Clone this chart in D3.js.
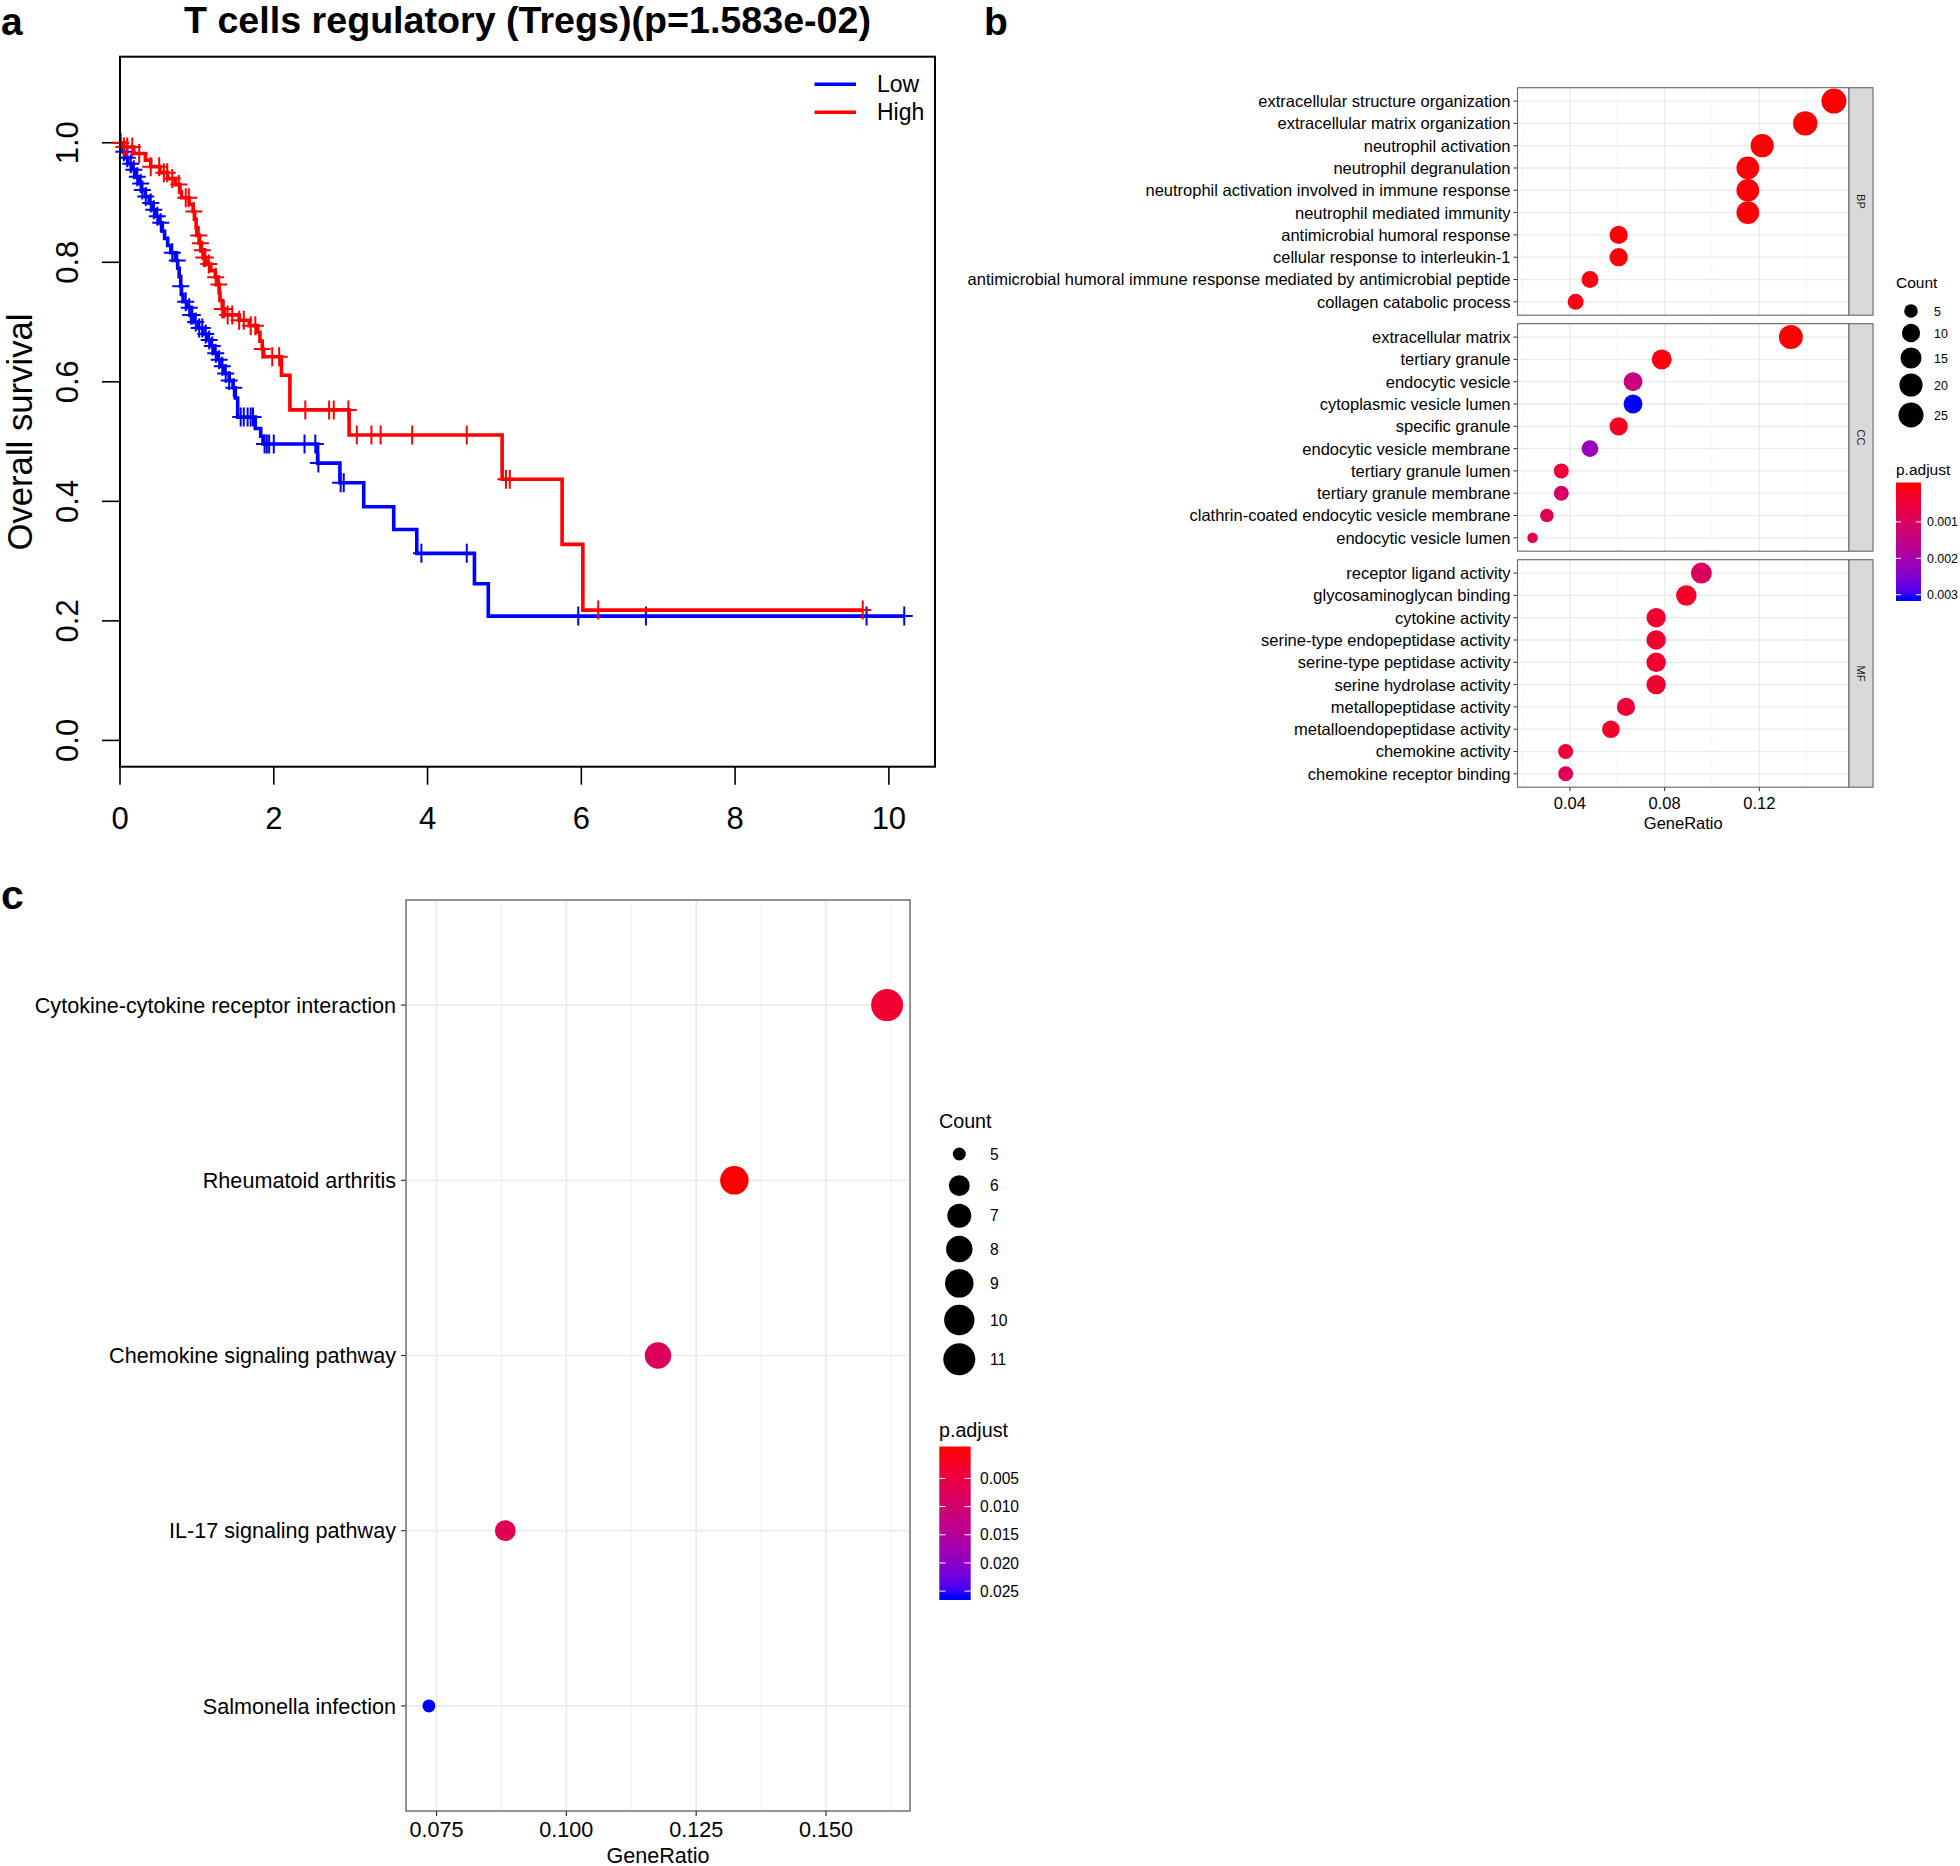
<!DOCTYPE html>
<html><head><meta charset="utf-8">
<script src="https://cdn.jsdelivr.net/npm/d3@7"></script>
<style>body{margin:0;background:#fff}svg{display:block}text{font-family:"Liberation Sans",Arial,Helvetica,sans-serif}</style>
</head><body><svg id="c" width="1960" height="1866"></svg>
<script>
// ---------------- DATA ----------------
// Panel a: Kaplan-Meier (Low / High)
const kmTitle = "T cells regulatory (Tregs)(p=1.583e-02)";
const kmGroups = ["Low", "High"];
const kmColors = ["#0000FF", "#FF0000"];
const lowTimes = [0.02,0.06,0.10,0.15,0.20,0.24,0.28,0.33,0.38,0.43,0.47,0.51,0.55,0.58,0.62,0.66,0.72,0.75,0.77,0.79,0.80,0.82,0.87,0.92,0.96,1.02,1.08,1.13,1.18,1.22,1.27,1.32,1.36,1.42,1.47,1.50,1.53,1.76,1.83,1.86,2.57,2.86,3.17,3.56,3.86,4.61,4.79];
const lowSurv  = [0.985,0.975,0.965,0.955,0.943,0.932,0.921,0.910,0.899,0.888,0.877,0.866,0.852,0.840,0.828,0.816,0.803,0.790,0.776,0.760,0.746,0.734,0.724,0.712,0.700,0.690,0.680,0.670,0.660,0.648,0.637,0.626,0.614,0.602,0.590,0.573,0.541,0.522,0.509,0.496,0.464,0.431,0.391,0.353,0.313,0.262,0.208];
const lowCensor = [0.05,0.095,0.14,0.18,0.225,0.27,0.29,0.335,0.40,0.44,0.485,0.53,0.68,0.745,0.79,0.855,0.90,0.92,0.94,0.985,1.03,1.07,1.115,1.16,1.20,1.245,1.29,1.33,1.375,1.42,1.48,1.57,1.61,1.66,1.70,1.73,1.88,1.91,1.94,2.00,2.40,2.54,2.58,2.87,2.91,3.92,4.51,5.96,6.84,9.71,10.2];
const lowEnd = 10.2;
const highTimes = [0.05,0.18,0.33,0.40,0.52,0.62,0.72,0.78,0.80,0.90,0.95,0.97,0.99,1.00,1.03,1.05,1.09,1.12,1.18,1.24,1.27,1.29,1.30,1.33,1.36,1.55,1.68,1.79,1.82,1.85,1.87,2.10,2.21,2.98,4.97,5.75,6.02];
const highSurv  = [0.993,0.982,0.971,0.960,0.950,0.940,0.930,0.918,0.908,0.897,0.885,0.872,0.858,0.845,0.832,0.820,0.808,0.797,0.786,0.775,0.763,0.749,0.736,0.722,0.712,0.703,0.694,0.683,0.668,0.655,0.642,0.611,0.553,0.511,0.437,0.328,0.218];
const highCensor = [0.01,0.05,0.095,0.16,0.25,0.40,0.51,0.57,0.615,0.68,0.765,0.855,0.895,0.96,1.025,1.045,1.07,1.09,1.11,1.155,1.245,1.285,1.33,1.35,1.40,1.46,1.55,1.61,1.70,1.76,1.85,1.98,2.07,2.41,2.72,2.78,2.97,3.08,3.27,3.39,3.80,4.51,5.02,5.07,6.22,9.66];
const highEnd = 9.66;
const kmXTicks = [0,2,4,6,8,10];
const kmYTicks = [0,0.2,0.4,0.6,0.8,1.0];

// Panel b: GO enrichment
const goFacets = ["BP","CC","MF"];
const goTotals = [165,165,157];
const bpTerms = ["extracellular structure organization","extracellular matrix organization","neutrophil activation","neutrophil degranulation","neutrophil activation involved in immune response","neutrophil mediated immunity","antimicrobial humoral response","cellular response to interleukin-1","antimicrobial humoral immune response mediated by antimicrobial peptide","collagen catabolic process"];
const bpCounts = [25,23,20,19,19,19,10,10,8,7];
const bpPadj = [3.2e-6,3.5e-6,2.1e-5,3.3e-5,3.4e-5,3.6e-5,4.1e-5,5.2e-5,9.8e-5,1.4e-4];
const ccTerms = ["extracellular matrix","tertiary granule","endocytic vesicle","cytoplasmic vesicle lumen","specific granule","endocytic vesicle membrane","tertiary granule lumen","tertiary granule membrane","clathrin-coated endocytic vesicle membrane","endocytic vesicle lumen"];
const ccCounts = [22,13,11,11,10,8,6,6,5,4];
const ccPadj = [2e-7,8e-5,0.0014,0.00309,0.00025,0.0022,0.00046,0.0011,0.0009,0.00068];
const mfTerms = ["receptor ligand activity","glycosaminoglycan binding","cytokine activity","serine-type endopeptidase activity","serine-type peptidase activity","serine hydrolase activity","metallopeptidase activity","metalloendopeptidase activity","chemokine activity","chemokine receptor binding"];
const mfCounts = [15,14,12,12,12,12,10,9,6,6];
const mfPadj = [0.001,0.0003,0.0004,0.0004,0.0004,0.0004,0.0005,0.0003,0.0005,0.0009];
const goXTicks = [0.04,0.08,0.12];
const goSizeBreaks = [5,10,15,20,25];
const goColorBreaks = [0.001,0.002,0.003];

// Panel c: KEGG enrichment
const keggTerms = ["Cytokine-cytokine receptor interaction","Rheumatoid arthritis","Chemokine signaling pathway","IL-17 signaling pathway","Salmonella infection"];
const keggCounts = [11,9,8,6,5];
const keggPadj = [0.0035,0.00001,0.0080,0.0068,0.0259];
const keggTotal = 68;
const keggXTicks = [0.075,0.100,0.125,0.150];
const keggSizeBreaks = [5,6,7,8,9,10,11];
const keggColorBreaks = [0.005,0.010,0.015,0.020,0.025];

// ---------------- DRAW ----------------
const svg = d3.select("#c");
svg.append("rect").attr("width",1960).attr("height",1866).attr("fill","#fff");
const defs = svg.append("defs");

function txt(g, x, y, s, size, opts={}) {
  const t = g.append("text").attr("x",x).attr("y",y).text(s).attr("font-size",size).attr("fill",opts.fill||"#000");
  if (opts.anchor) t.attr("text-anchor",opts.anchor);
  if (opts.weight) t.attr("font-weight",opts.weight);
  if (opts.transform) t.attr("transform",opts.transform);
  return t;
}

// Panel letters
txt(svg, 1, 35.3, "a", 39, {weight:"bold"});
txt(svg, 984, 35.3, "b", 39, {weight:"bold"});
txt(svg, 1, 909, "c", 41, {weight:"bold"});

// ===== Panel a =====
(function(){
  const g = svg.append("g");
  const X0=120, X1=935, Y0=56.7, Y1=766.7;
  const x = d3.scaleLinear().domain([0,10.6]).range([X0,X1]);
  const y = d3.scaleLinear().domain([-0.044,1.144]).range([Y1,Y0]);
  txt(g, (X0+X1)/2, 33.2, kmTitle, 36.5, {anchor:"middle", weight:"bold"})
    .attr("textLength",687).attr("lengthAdjust","spacingAndGlyphs");
  kmYTicks.forEach(v=>{
    g.append("line").attr("x1",X0-18).attr("x2",X0).attr("y1",y(v)).attr("y2",y(v)).attr("stroke","#000").attr("stroke-width",1.6);
    txt(g, 0, 0, d3.format(".1f")(v), 31, {anchor:"middle", transform:`translate(${78},${y(v)}) rotate(-90)`});
  });
  kmXTicks.forEach(v=>{
    g.append("line").attr("x1",x(v)).attr("x2",x(v)).attr("y1",Y1).attr("y2",Y1+18).attr("stroke","#000").attr("stroke-width",1.6);
    txt(g, x(v), 829, String(v), 31, {anchor:"middle"});
  });
  txt(g, 0, 0, "Overall survival", 34.7, {anchor:"middle", transform:"translate(32,432) rotate(-90)"});

  function stepPath(times, surv, end) {
    let d = `M${x(0)},${y(1)}`;
    times.forEach((t,i)=>{ d += `H${x(t)}V${y(surv[i])}`; });
    d += `H${x(end)}`;
    return d;
  }
  function survAt(times, surv, t) {
    let s = 1;
    for (let i=0;i<times.length;i++) if (times[i] <= t) s = surv[i];
    return s;
  }
  const series = [
    {times:lowTimes, surv:lowSurv, cens:lowCensor, end:lowEnd, col:kmColors[0]},
    {times:highTimes, surv:highSurv, cens:highCensor, end:highEnd, col:kmColors[1]}
  ];
  series.forEach(s=>{
    g.append("path").attr("d",stepPath(s.times,s.surv,s.end)).attr("fill","none")
      .attr("stroke",s.col).attr("stroke-width",3.6).attr("stroke-linejoin","miter");
    let d = "";
    s.cens.forEach(t=>{
      const cx = x(t), cy = y(survAt(s.times,s.surv,t));
      d += `M${cx-8.5},${cy}h17M${cx},${cy-9.5}v19`;
    });
    g.append("path").attr("d",d).attr("fill","none").attr("stroke",s.col).attr("stroke-width",2);
  });
  g.append("rect").attr("x",X0).attr("y",Y0).attr("width",X1-X0).attr("height",Y1-Y0)
    .attr("fill","none").attr("stroke","#000").attr("stroke-width",2);
  kmGroups.forEach((nm,i)=>{
    const ly = 84.3 + i*28;
    g.append("line").attr("x1",814.5).attr("x2",856).attr("y1",ly).attr("y2",ly).attr("stroke",kmColors[i]).attr("stroke-width",3.5);
    txt(g, 877, ly+8, nm, 23);
  });
})();

function expandRange(vals){ const [a,b]=d3.extent(vals); const m=(b-a)*0.05; return [a-m,b+m]; }
function makeColorbar(g, id, color, pmin, pmax, bx, by0, by1, bw, breaks, fmt, fsize, lx) {
  const m = (pmax-pmin)/38;
  const lo = pmin - m, hi = pmax + m;
  const grad = defs.append("linearGradient").attr("id",id).attr("x1",0).attr("y1",0).attr("x2",0).attr("y2",1);
  d3.range(0,41).forEach(i=>{
    const o = i/40; const v = Math.max(pmin, Math.min(pmax, lo + o*(hi-lo)));
    grad.append("stop").attr("offset",o).attr("stop-color",color(v));
  });
  g.append("rect").attr("x",bx).attr("y",by0).attr("width",bw).attr("height",by1-by0).attr("fill",`url(#${id})`);
  const sc = d3.scaleLinear().domain([lo,hi]).range([by0,by1]);
  breaks.forEach(b=>{
    const yy = sc(b);
    g.append("line").attr("x1",bx).attr("x2",bx+bw/5).attr("y1",yy).attr("y2",yy).attr("stroke","#fff").attr("stroke-width",1);
    g.append("line").attr("x1",bx+bw*4/5).attr("x2",bx+bw).attr("y1",yy).attr("y2",yy).attr("stroke","#fff").attr("stroke-width",1);
    txt(g, lx, yy+fsize*0.36, fmt(b), fsize);
  });
}

// ===== Panel b =====
(function(){
  const g = svg.append("g");
  const PX0=1517.5, PX1=1849, SX1=1873;
  const panels = [[87.7,315.2],[323.7,551.2],[559.7,787.2]];
  const termsA = [bpTerms, ccTerms, mfTerms];
  const countsA = [bpCounts, ccCounts, mfCounts];
  const padjA = [bpPadj, ccPadj, mfPadj];
  const ratiosA = countsA.map((cs,i)=>cs.map(c=>c/goTotals[i]));
  const allRatios = ratiosA.flat(), allCounts = countsA.flat(), allP = padjA.flat();
  const x = d3.scaleLinear().domain(expandRange(allRatios)).range([PX0,PX1]);
  const cExt = d3.extent(allCounts), pExt = d3.extent(allP);
  const cNorm = d3.scaleLinear().domain(cExt).range([0,1]);
  const dia = d3.scalePow().exponent(0.5).domain([0,1]).range([10.5,25]);
  const color = d3.scaleLinear().domain(pExt).range(["red","blue"]).interpolate(d3.interpolateLab).clamp(true);
  const minor = [0.02,0.06,0.10,0.14].filter(v=>x(v)>PX0&&x(v)<PX1);
  goFacets.forEach((f,fi)=>{
    const [y0,y1] = panels[fi];
    const y = d3.scalePoint().domain(termsA[fi]).range([y0,y1]).padding(0.6);
    g.append("rect").attr("x",PX0).attr("y",y0).attr("width",PX1-PX0).attr("height",y1-y0).attr("fill","#fff");
    minor.forEach(v=>g.append("line").attr("x1",x(v)).attr("x2",x(v)).attr("y1",y0).attr("y2",y1).attr("stroke","#F0F0F0").attr("stroke-width",0.7));
    goXTicks.forEach(v=>g.append("line").attr("x1",x(v)).attr("x2",x(v)).attr("y1",y0).attr("y2",y1).attr("stroke","#EBEBEB").attr("stroke-width",1.3));
    termsA[fi].forEach(t=>{
      g.append("line").attr("x1",PX0).attr("x2",PX1).attr("y1",y(t)).attr("y2",y(t)).attr("stroke","#EBEBEB").attr("stroke-width",1.3);
      g.append("line").attr("x1",PX0-4).attr("x2",PX0).attr("y1",y(t)).attr("y2",y(t)).attr("stroke","#333").attr("stroke-width",1);
      txt(g, PX0-7, y(t)+5.9, t, 16.5, {anchor:"end"});
    });
    termsA[fi].forEach((t,i)=>{
      g.append("circle").attr("cx",x(ratiosA[fi][i])).attr("cy",y(t)).attr("r",dia(cNorm(countsA[fi][i]))/2).attr("fill",color(padjA[fi][i]));
    });
    g.append("rect").attr("x",PX0).attr("y",y0).attr("width",PX1-PX0).attr("height",y1-y0).attr("fill","none").attr("stroke","#666").attr("stroke-width",1.1);
    g.append("rect").attr("x",PX1).attr("y",y0).attr("width",SX1-PX1).attr("height",y1-y0).attr("fill","#D9D9D9").attr("stroke","#666").attr("stroke-width",1.1);
    txt(g, 0, 0, f, 11, {anchor:"middle", fill:"#1A1A1A", transform:`translate(${(PX1+SX1)/2-4},${(y0+y1)/2}) rotate(90)`});
  });
  const yb = panels[2][1];
  goXTicks.forEach(v=>{
    g.append("line").attr("x1",x(v)).attr("x2",x(v)).attr("y1",yb).attr("y2",yb+4).attr("stroke","#333").attr("stroke-width",1);
    txt(g, x(v), 809, d3.format(".2f")(v), 16.5, {anchor:"middle"});
  });
  txt(g, (PX0+PX1)/2, 828.5, "GeneRatio", 16.5, {anchor:"middle"});
  txt(g, 1896, 288, "Count", 15.5);
  const ly = [311,333,358,385,415];
  goSizeBreaks.forEach((b,i)=>{
    g.append("circle").attr("cx",1911).attr("cy",ly[i]).attr("r",dia(cNorm(b))/2).attr("fill","#000");
    txt(g, 1934, ly[i]+4.5, String(b), 12.4);
  });
  txt(g, 1896, 474.5, "p.adjust", 15.5);
  makeColorbar(g, "gradB", color, pExt[0], pExt[1], 1896, 482.5, 601, 25, goColorBreaks, d3.format(".3f"), 12.4, 1927);
})();

// ===== Panel c =====
(function(){
  const g = svg.append("g");
  const PX0=406, PX1=910, PY0=900, PY1=1811;
  const ratios = keggCounts.map(c=>c/keggTotal);
  const x = d3.scaleLinear().domain(expandRange(ratios)).range([PX0,PX1]);
  const y = d3.scalePoint().domain(keggTerms).range([PY0,PY1]).padding(0.6);
  const cExt = d3.extent(keggCounts), pExt = d3.extent(keggPadj);
  const cNorm = d3.scaleLinear().domain(cExt).range([0,1]);
  const dia = d3.scalePow().exponent(0.5).domain([0,1]).range([13,32]);
  const color = d3.scaleLinear().domain(pExt).range(["red","blue"]).interpolate(d3.interpolateLab).clamp(true);
  const minor = [0.0625,0.0875,0.1125,0.1375,0.1625].filter(v=>x(v)>PX0&&x(v)<PX1);
  minor.forEach(v=>g.append("line").attr("x1",x(v)).attr("x2",x(v)).attr("y1",PY0).attr("y2",PY1).attr("stroke","#F0F0F0").attr("stroke-width",1));
  keggXTicks.forEach(v=>g.append("line").attr("x1",x(v)).attr("x2",x(v)).attr("y1",PY0).attr("y2",PY1).attr("stroke","#EBEBEB").attr("stroke-width",1.7));
  keggTerms.forEach((t,i)=>{
    g.append("line").attr("x1",PX0).attr("x2",PX1).attr("y1",y(t)).attr("y2",y(t)).attr("stroke","#EBEBEB").attr("stroke-width",1.7);
    g.append("line").attr("x1",PX0-5).attr("x2",PX0).attr("y1",y(t)).attr("y2",y(t)).attr("stroke","#333").attr("stroke-width",1.2);
    txt(g, PX0-10, y(t)+7.7, t, 21.6, {anchor:"end"});
  });
  keggTerms.forEach((t,i)=>{
    g.append("circle").attr("cx",x(ratios[i])).attr("cy",y(t)).attr("r",dia(cNorm(keggCounts[i]))/2).attr("fill",color(keggPadj[i]));
  });
  g.append("rect").attr("x",PX0).attr("y",PY0).attr("width",PX1-PX0).attr("height",PY1-PY0).attr("fill","none").attr("stroke","#666").attr("stroke-width",1.4);
  keggXTicks.forEach(v=>{
    g.append("line").attr("x1",x(v)).attr("x2",x(v)).attr("y1",PY1).attr("y2",PY1+5).attr("stroke","#333").attr("stroke-width",1.2);
    txt(g, x(v), 1837, d3.format(".3f")(v), 21.6, {anchor:"middle"});
  });
  txt(g, (PX0+PX1)/2, 1862.5, "GeneRatio", 21.6, {anchor:"middle"});
  txt(g, 939, 1127.5, "Count", 19.7);
  const ly = [1154,1185.7,1215.7,1249,1283.3,1320,1359.3];
  keggSizeBreaks.forEach((b,i)=>{
    g.append("circle").attr("cx",959.3).attr("cy",ly[i]).attr("r",dia(cNorm(b))/2).attr("fill","#000");
    txt(g, 990, ly[i]+5.6, String(b), 15.6);
  });
  txt(g, 939, 1437, "p.adjust", 19.7);
  makeColorbar(g, "gradC", color, pExt[0], pExt[1], 939.3, 1446.5, 1600, 31.4, keggColorBreaks, d3.format(".3f"), 15.6, 980);
})();
</script></body></html>
